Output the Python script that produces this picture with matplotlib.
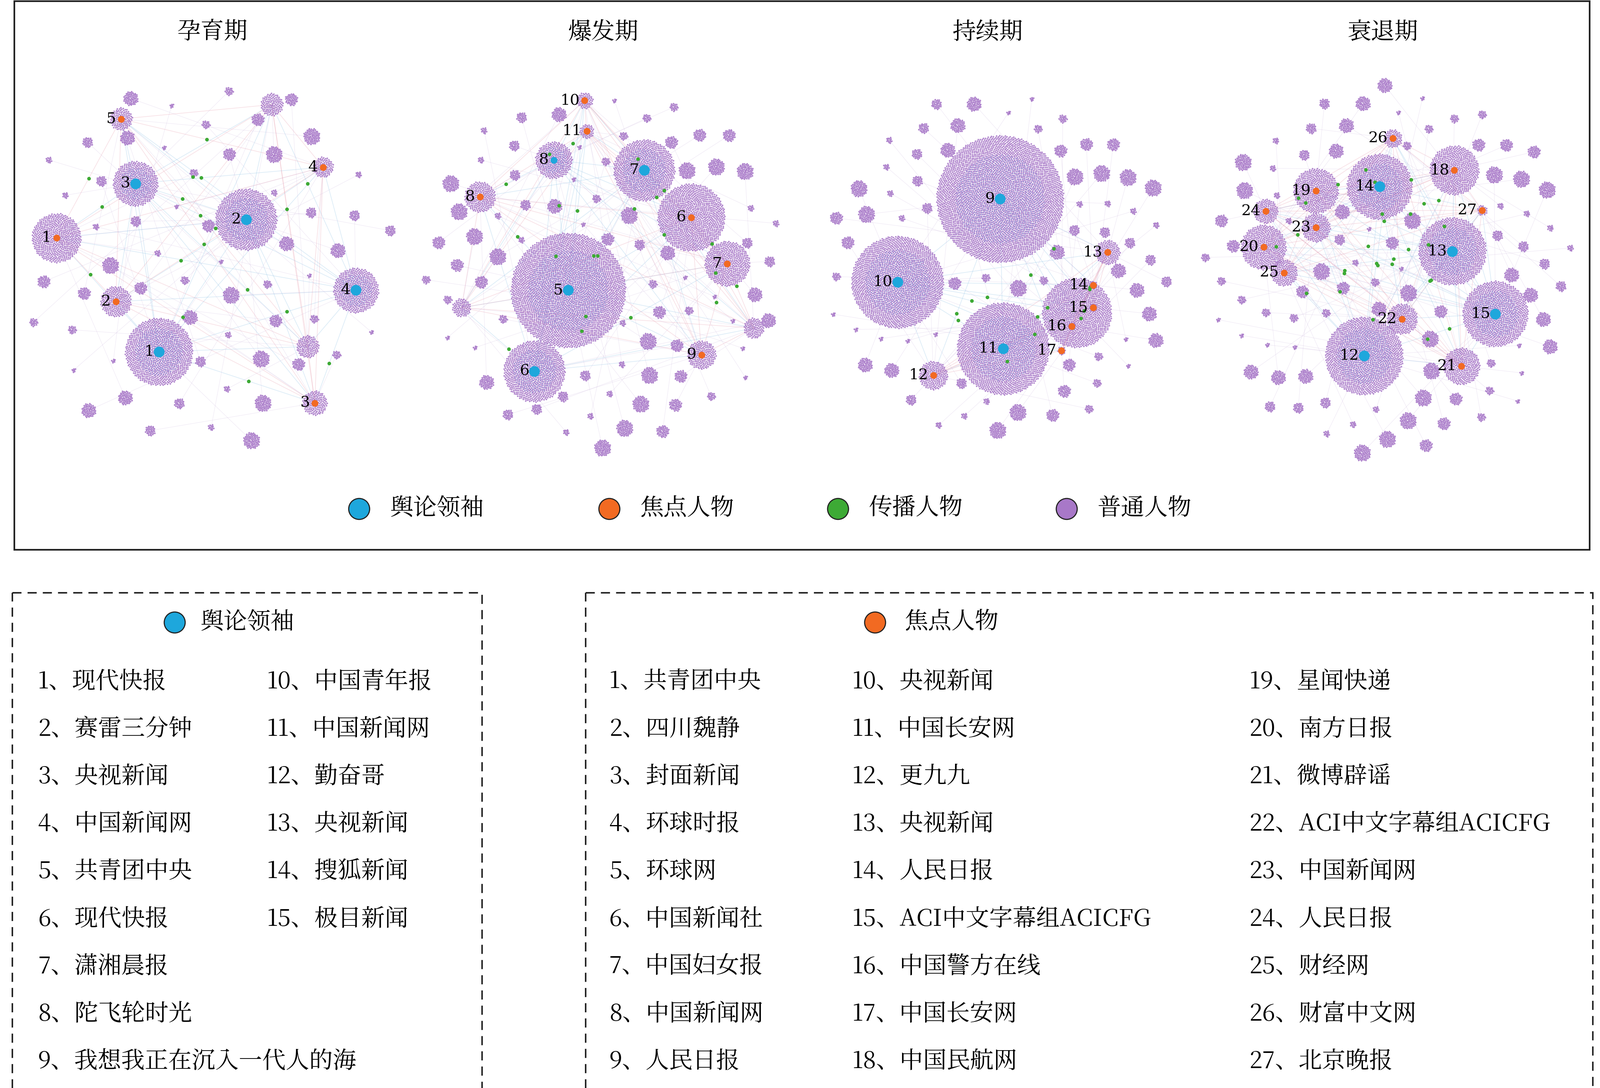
import numpy as np
import matplotlib.pyplot as plt
from matplotlib import font_manager
from matplotlib.patches import Rectangle

cjk = [f.name for f in font_manager.fontManager.ttflist if 'CJK' in f.name]
cjk_name = next((n for n in cjk if 'SC' in n), cjk[0] if cjk else 'DejaVu Sans')
plt.rcParams['font.family'] = 'sans-serif'
plt.rcParams['font.sans-serif'] = [cjk_name, 'DejaVu Sans']

BLUE = '#1ea7dc'
ORANGE = '#f26a22'
GREEN = '#3daa35'
PURPLE = '#a878c8'

titles = ['孕育期', '爆发期', '持续期', '衰退期']
title_x = [207, 588, 963, 1348]
# panel centre x, centre y, spread radius, number of small groups
panels = [(200, 255, 185, 70), (590, 260, 178, 110), (975, 258, 170, 120), (1355, 262, 182, 130)]

# hubs per panel: (x, y, radius, label, kind)
hubs = [
    [(155, 343, 33, '1', 'b'), (240, 214, 30, '2', 'b'), (132, 179, 22, '3', 'b'), (347, 283, 22, '4', 'b'),
     (55, 232, 24, '1', 'o'), (113, 294, 15, '2', 'o'), (307, 393, 12, '3', 'o'), (315, 163, 10, '4', 'o'),
     (118, 116, 11, '5', 'o'), (265, 102, 11, '', 'p'), (300, 338, 11, '', 'p')],
    [(554, 283, 56, '5', 'b'), (521, 362, 30, '6', 'b'), (628, 166, 30, '7', 'b'), (540, 156, 18, '8', 'b'),
     (674, 212, 33, '6', 'o'), (709, 257, 22, '7', 'o'), (468, 192, 15, '8', 'o'), (684, 346, 14, '9', 'o'),
     (570, 98, 8, '10', 'o'), (572, 128, 7, '11', 'o'), (735, 320, 10, '', 'p'), (450, 300, 9, '', 'p')],
    [(975, 194, 62, '9', 'b'), (875, 275, 45, '10', 'b'), (978, 340, 45, '11', 'b'),
     (910, 366, 14, '12', 'o'), (1080, 246, 12, '13', 'o'), (1050, 305, 34, '', 'p'),
     (1066, 278, 4, '14', 'o'), (1066, 300, 4, '15', 'o'), (1045, 318, 4, '16', 'o'), (1035, 342, 4, '17', 'o')],
    [(1330, 347, 38, '12', 'b'), (1416, 245, 33, '13', 'b'), (1345, 182, 32, '14', 'b'), (1458, 306, 32, '15', 'b'),
     (1418, 166, 24, '18', 'o'), (1283, 186, 22, '19', 'o'), (1232, 241, 22, '20', 'o'), (1425, 357, 18, '21', 'o'),
     (1367, 311, 15, '22', 'o'), (1283, 222, 14, '23', 'o'), (1234, 206, 12, '24', 'o'), (1252, 266, 13, '25', 'o'),
     (1358, 135, 9, '26', 'o'), (1445, 205, 5, '27', 'o')],
]

legend_labels = ['舆论领袖', '焦点人物', '传播人物', '普通人物']
legend_x = [350, 594, 817, 1040]

leaders = ['现代快报', '赛雷三分钟', '央视新闻', '中国新闻网', '共青团中央', '现代快报', '潇湘晨报',
           '陀飞轮时光', '我想我正在沉入一代人的海', '中国青年报', '中国新闻网', '勤奋哥', '央视新闻',
           '搜狐新闻', '极目新闻']
focus = ['共青团中央', '四川魏静', '封面新闻', '环球时报', '环球网', '中国新闻社', '中国妇女报', '中国新闻网',
         '人民日报', '央视新闻', '中国长安网', '更九九', '央视新闻', '人民日报', 'ACI中文字幕组ACICFG',
         '中国警方在线', '中国长安网', '中国民航网', '星闻快递', '南方日报', '微博辟谣', 'ACI中文字幕组ACICFG',
         '中国新闻网', '人民日报', '财经网', '财富中文网', '北京晚报']

GA = np.pi * (3 - np.sqrt(5))


def disk(cx, cy, r, n):
    i = np.arange(n)
    rr = r * np.sqrt((i + 0.5) / n)
    th = i * GA
    return cx + rr * np.cos(th), cy + rr * np.sin(th)


fig = plt.figure(figsize=(16.064, 10.924), dpi=250)
ax = fig.add_axes([0, 0, 1, 1])
ax.set_xlim(0, 1560)
ax.set_ylim(1061, 0)
ax.axis('off')

ax.add_patch(Rectangle((14, 1), 1536, 535, fill=False, lw=1.2, ec='#222222'))

for p, (cx, cy, R, ns) in enumerate(panels):
    ax.text(title_x[p], 32, titles[p], ha='center', va='center', fontsize=17)
    hl = hubs[p]
    for a in range(len(hl)):
        for b in range(a + 1, len(hl)):
            x1, y1, r1, _, k1 = hl[a]
            x2, y2, r2, _, k2 = hl[b]
            col = '#8fc3e6' if k1 == 'b' else '#e8a0b0'
            ax.plot([x1, x2], [y1, y2], color=col, lw=0.5, alpha=0.3, zorder=1)
            if (a + b) % 3 == 0:
                t = 0.35 + 0.3 * ((a * 7 + b * 3) % 5) / 4
                ax.scatter(x1 + t * (x2 - x1), y1 + t * (y2 - y1), s=7, color=GREEN, zorder=4, lw=0)
    sx, sy = disk(cx, cy, R, ns)
    for j, (gx, gy) in enumerate(zip(sx, sy)):
        if any(np.hypot(gx - h[0], gy - h[1]) < h[2] + 6 for h in hl):
            continue
        gr = 2 + (j * 37 % 7)
        px, py = disk(gx, gy, gr, int(gr * gr * 1.3) + 2)
        ax.scatter(px, py, s=1.6, color=PURPLE, lw=0, alpha=0.9, zorder=2)
        hx, hy, _, _, _ = hl[j % len(hl)]
        ax.plot([gx, hx], [gy, hy], color='#c9b3dc', lw=0.3, alpha=0.3, zorder=1)
    for (hx, hy, hr, lab, kind) in hl:
        px, py = disk(hx, hy, hr, int((hr / 1.0) ** 2) + 5)
        ax.scatter(px, py, s=1.4, color=PURPLE, lw=0, alpha=0.9, zorder=3)
        if kind == 'b':
            px, py = disk(hx, hy, hr * 0.7, int((hr * 0.7 / 1.4) ** 2) + 3)
            ax.scatter(px, py, s=1.0, color='#7f8fd8', lw=0, alpha=0.5, zorder=3)
        if kind != 'p':
            big = hr > 20
            ax.scatter(hx, hy, s=(60 if kind == 'b' and big else 24), color=BLUE if kind == 'b' else ORANGE,
                       zorder=6, lw=0)
            ax.text(hx - 5, hy, lab, ha='right', va='center', fontsize=11, family='DejaVu Serif', zorder=7)

for lx, lab, col in zip(legend_x, legend_labels, [BLUE, ORANGE, GREEN, PURPLE]):
    ax.scatter(lx, 496, s=230, color=col, ec='#222222', lw=0.8, zorder=5)
    ax.text(lx + 30, 496, lab, ha='left', va='center', fontsize=17)

ax.add_patch(Rectangle((12, 578), 458, 485, fill=False, lw=1.1, ec='#222222', ls=(0, (6, 4))))
ax.add_patch(Rectangle((571, 578), 982, 485, fill=False, lw=1.1, ec='#222222', ls=(0, (6, 4))))

ax.scatter(170, 607, s=230, color=BLUE, ec='#222222', lw=0.8)
ax.text(195, 607, '舆论领袖', ha='left', va='center', fontsize=17)
ax.scatter(853, 607, s=230, color=ORANGE, ec='#222222', lw=0.8)
ax.text(882, 607, '焦点人物', ha='left', va='center', fontsize=17)

row_y = 665
step = 46.3
for i, name in enumerate(leaders):
    col, row = divmod(i, 9)
    ax.text([37, 260][col], row_y + row * step, f'{i + 1}、{name}', ha='left', va='center', fontsize=17)
for i, name in enumerate(focus):
    col, row = divmod(i, 9)
    ax.text([594, 831, 1218][col], row_y + row * step, f'{i + 1}、{name}', ha='left', va='center', fontsize=17)

fig.savefig('out.png', dpi=250)
